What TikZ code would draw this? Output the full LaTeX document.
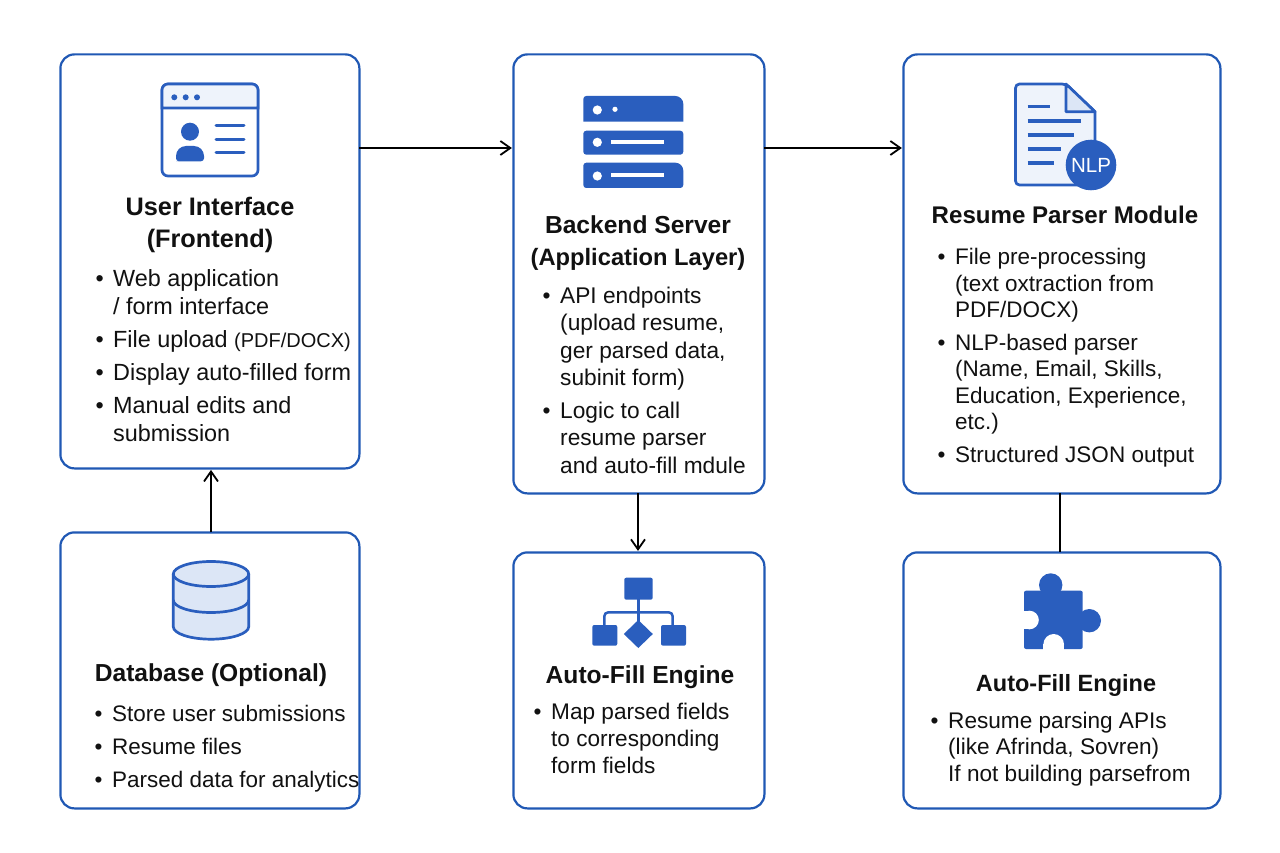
\documentclass[tikz,border=0pt]{standalone}
\usepackage{fontspec}
\setmainfont{Liberation Sans}
\usepackage{xcolor}
\usetikzlibrary{positioning,arrows.meta}
\definecolor{edge}{HTML}{2058B4}
\definecolor{ink}{HTML}{2A5EBE}
\definecolor{pale}{HTML}{EEF3FB}
\definecolor{tint}{HTML}{DCE6F6}
\definecolor{body}{HTML}{111111}
\newcommand{\dotitem}{\makebox[15pt][l]{\hspace{-2.5pt}•}}
\newcommand{\noitem}{\hspace*{15pt}}

\begin{document}
\begin{tikzpicture}[
  x=1pt,y=-1pt,
  panel/.style={draw=edge,line width=2.2pt,rounded corners=14pt,fill=white,anchor=north west,inner sep=0pt,outer sep=0pt},
  heading/.style={font=\bfseries\fontsize{#1}{31.5}\selectfont,align=center,inner sep=0pt,text=body},
  blist/.style 2 args={font=\fontsize{#1}{#2}\selectfont,align=left,inner sep=0pt,anchor=base west,text=body},
  arr/.style={-{Straight Barb[length=10pt,width=14pt]},line width=1.8pt,shorten >=1.5pt},
  wire/.style={line width=1.8pt},
  iconline/.style={draw=ink,line width=2.7pt},
  bar/.style={draw=ink,line width=3.6pt},
]
  \useasboundingbox (0,0) rectangle (1280,853);
  \fill[white] (0,0) rectangle (1280,853);

  \node[panel,minimum width=299pt,minimum height=414pt] (ui) at (60.4,54.4) {};
  \node[panel,minimum width=299pt,minimum height=276pt,below=64pt of ui] (db) {};
  \node[panel,minimum width=251pt,minimum height=439pt] (srv) at (513.4,54.4) {};
  \node[panel,minimum width=251pt,minimum height=256pt,below=59pt of srv] (fill) {};
  \node[panel,minimum width=317pt,minimum height=439pt] (parser) at (903.4,54.4) {};
  \node[panel,minimum width=317pt,minimum height=256pt,below=59pt of parser] (api) {};
  \coordinate (row) at (0,148);
  \coordinate (dbx) at (211,0);
  \coordinate (flx) at (638,0);
  \coordinate (pax) at (1060,0);

  \draw[arr] (ui.east |- row) -- (srv.west |- row);
  \draw[arr] (srv.east |- row) -- (parser.west |- row);
  \draw[arr] (db.north -| dbx) -- (ui.south -| dbx);
  \draw[arr] (srv.south -| flx) -- (fill.north -| flx);
  \draw[wire] (parser.south -| pax) -- (api.north -| pax);

  % window with person
  \draw[iconline,fill=white,rounded corners=6pt] (162,84) rectangle (258,176);
  \draw[iconline,fill=pale] (162,108) [rounded corners=6pt] -- (162,84) -- (258,84) [sharp corners] -- (258,108) -- cycle;
  \foreach \dx in {174.3,185.7,197} \fill[ink] (\dx,97.3) circle (3);
  \fill[ink] (190,131.7) circle (9);
  \fill[ink] (179,161.3) [rounded corners=3pt] -- (176,161.3) [rounded corners=10pt] -- (176,146) -- (204,146) [rounded corners=3pt] -- (204,161.3) -- cycle;
  \foreach \ly in {126,139.3,152.7} \draw[ink,line width=3pt,line cap=round] (216,\ly) -- (244,\ly);

  % server rack
  \fill[ink] (583.3,121.7) [rounded corners=3pt] -- (583.3,96) [rounded corners=8pt] -- (683.3,96) [sharp corners] -- (683.3,121.7) -- cycle;
  \fill[ink,rounded corners=3pt] (583.3,130.7) rectangle (683.3,154.7);
  \fill[ink] (583.3,180) [rounded corners=3pt] -- (583.3,162.7) [rounded corners=8pt] -- (683.3,162.7) [rounded corners=3pt] -- (683.3,188) -- (583.3,188) -- cycle;
  \foreach \ry in {110,142.3,176} \fill[white] (597.3,\ry) circle (4.6);
  \fill[white] (615,109.3) circle (2.6);
  \draw[white,line width=3.7pt] (611,142.3) -- (664,142.3);
  \draw[white,line width=3.7pt] (611,175.3) -- (664,175.3);

  % document with badge
  \draw[iconline,fill=pale,rounded corners=4pt] (1095,185) -- (1015.5,185) -- (1015.5,84) -- (1066,84) [sharp corners] -- (1095,111.7) -- cycle;
  \draw[iconline,fill=tint,line join=round] (1066,84) -- (1066,111.7) -- (1095,111.7) -- cycle;
  \draw[bar] (1027.7,106.7) -- (1050,106.7);
  \draw[bar] (1027.7,121) -- (1081,121);
  \draw[bar] (1027.7,135) -- (1074,135);
  \draw[bar] (1027.7,149.3) -- (1061.3,149.3);
  \draw[bar] (1027.7,163.3) -- (1054.3,163.3);
  \node[circle,fill=ink,text=white,minimum size=50.6pt,inner sep=0pt,font=\fontsize{20.5}{20.5}\selectfont] (nlp) at (1091,165) {NLP};

  % database cylinder
  \draw[iconline,fill=tint] (173.3,574) -- (173.3,626.7) arc[start angle=180,end angle=360,x radius=37.7,y radius=-12.5] -- (248.7,574);
  \draw[iconline] (173.3,600) arc[start angle=180,end angle=360,x radius=37.7,y radius=-12.5];
  \draw[iconline,fill=tint] (211,574) ellipse[x radius=37.7,y radius=12.5];

  % flow chart
  \fill[ink,rounded corners=2pt] (624.3,577.7) rectangle (652.7,599.7);
  \fill[ink,rounded corners=2pt] (592.3,625) rectangle (617.3,645.7);
  \fill[ink,rounded corners=2pt] (661,625) rectangle (686,645.7);
  \fill[ink] (638.3,620) -- (652.8,634) -- (638.3,648) -- (623.8,634) -- cycle;
  \draw[ink,line width=2.5pt] (638.3,599) -- (638.3,622);
  \draw[ink,line width=2.5pt,rounded corners=4pt] (604.3,626) -- (604.3,612.3) -- (672.7,612.3) -- (672.7,626);

  % puzzle piece
  \fill[ink,rounded corners=2pt] (1024,590.7) rectangle (1082.7,649);
  \fill[ink] (1050.7,585) circle (11.7);
  \fill[ink] (1089.3,620.7) circle (11.7);
  \fill[white] (1029.5,620) circle (9.3);
  \fill[white] (1020,610.7) rectangle (1029.5,629.3);
  \fill[white] (1053.7,644.3) circle (10.3);
  \fill[white] (1043.4,644.3) rectangle (1064,651);

  \node[heading=25.3] (uihead) at (210,225) {User Interface\\(Frontend)};
  \node[blist={23.4}{28}] (uilist) at (98,441) {\dotitem Web application\\\noitem / form interface\\[5pt]\dotitem File upload {\fontsize{20}{28}\selectfont (PDF/DOCX)}\\[5pt]\dotitem Display auto-filled form\\[5pt]\dotitem Manual edits and\\\noitem submission};

  \node[heading=24.6] (srvhead) at (638,243) {Backend Server\\{\fontsize{23.7}{31.5}\selectfont (Application Layer)}};
  \node[blist={22.7}{27.5}] (srvlist) at (545,473) {\dotitem API endpoints\\\noitem (upload resume,\\\noitem ger parsed data,\\\noitem subinit form)\\[5pt]\dotitem Logic to call\\\noitem resume parser\\\noitem and auto-fill mdule};

  \node[heading=24.1] (parserhead) at (1065,215) {Resume Parser Module};
  \node[blist={22.5}{26.5}] (parserlist) at (940,462) {\dotitem File pre-processing\\\noitem (text oxtraction from\\\noitem PDF/DOCX)\\[6pt]\dotitem NLP-based parser\\\noitem (Name, Email, Skills,\\\noitem Education, Experience,\\\noitem etc.)\\[6pt]\dotitem Structured JSON output};

  \node[heading=24.6] (dbhead) at (211,675) {Database (Optional)};
  \node[blist={22.45}{33}] (dblist) at (97,787) {\dotitem Store user submissions\\\dotitem Resume files\\\dotitem Parsed data for analytics};

  \node[heading=24.6] (fillhead) at (640,677) {Auto-Fill Engine};
  \node[blist={22.6}{27}] (filllist) at (536,773) {\dotitem Map parsed fields\\\noitem to corresponding\\\noitem form fields};

  \node[heading=23.5] (apihead) at (1066,685) {Auto-Fill Engine};
  \node[blist={22.6}{26.5}] (apilist) at (933,781) {\dotitem Resume parsing APIs\\\noitem (like Afrinda, Sovren)\\\noitem If not building parsefrom};
\end{tikzpicture}
\end{document}
